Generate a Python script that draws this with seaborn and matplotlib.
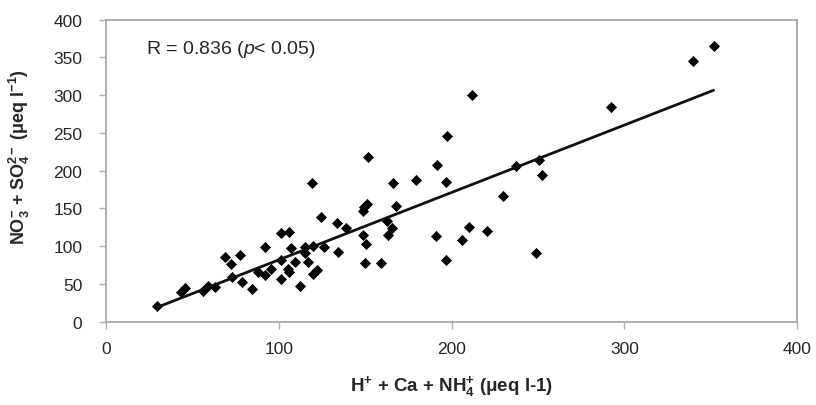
import numpy as np
import pandas as pd
import matplotlib
matplotlib.use("Agg")
import matplotlib.pyplot as plt
import seaborn as sns

# cations (x) vs anions (y), in ueq/l
cations = [29.3, 43.1, 45.7, 56.0, 59.2, 62.8, 68.9, 72.2, 72.6, 77.4,
           78.9, 84.3, 88.2, 92.0, 92.0, 95.5, 101.1, 106.1, 101.5, 101.1,
           105.0, 106.1, 106.8, 109.2, 112.3, 115.2, 115.2, 117.1, 119.7, 119.5,
           122.0, 119.1, 124.5, 126.2, 133.9, 134.5, 138.9, 148.5, 149.5, 150.9,
           148.5, 150.6, 149.9, 159.2, 162.3, 163.2, 165.6, 167.9, 166.3, 179.5,
           196.5, 191.2, 196.7, 151.8, 191.8, 197.2, 205.9, 210.3, 220.4, 211.7,
           229.6, 237.3, 250.8, 252.2, 248.9, 292.3, 339.6, 351.6]
anions = [21.2, 39.7, 44.2, 40.4, 47.9, 45.6, 85.3, 77.1, 58.8, 88.6,
          53.0, 44.0, 65.8, 61.9, 99.3, 70.5, 117.2, 118.4, 82.0, 56.6,
          69.8, 65.4, 97.4, 79.7, 47.9, 99.3, 90.7, 79.7, 100.7, 63.6,
          68.1, 183.7, 138.3, 98.9, 130.7, 92.3, 124.5, 146.6, 151.5, 156.6,
          115.1, 102.9, 77.5, 77.7, 133.8, 114.8, 123.7, 152.8, 183.7, 187.3,
          185.4, 113.1, 81.7, 217.7, 207.5, 246.4, 108.2, 125.8, 120.5, 300.7,
          166.9, 205.8, 214.2, 194.7, 90.6, 284.8, 345.3, 364.8]
x_ticks = [0, 100, 200, 300, 400]
y_ticks = [0, 50, 100, 150, 200, 250, 300, 350, 400]

df = pd.DataFrame({"cations": cations, "anions": anions})

sns.set_style("white")
plt.rcParams["font.family"] = ["Liberation Sans", "DejaVu Sans"]
plt.rcParams["mathtext.fontset"] = "custom"
plt.rcParams["mathtext.rm"] = "Liberation Sans"
plt.rcParams["mathtext.it"] = "Liberation Sans:italic"
plt.rcParams["mathtext.bf"] = "Liberation Sans:bold"

fig = plt.figure(figsize=(8.16, 4.06), dpi=100)
ax = fig.add_axes([0.13, 0.205, 0.847, 0.744])

# scatter + least squares line
sns.regplot(data=df, x="cations", y="anions", ax=ax, ci=None, marker="D",
            color="black",
            scatter_kws={"s": 32, "linewidths": 0, "alpha": 1},
            line_kws={"linewidth": 2, "color": "#111111"})

ax.set_xlim(0, 400)
ax.set_ylim(0, 400)
ax.set_xticks(x_ticks)
ax.set_yticks(y_ticks)
ax.tick_params(axis="both", labelsize=12.5, length=5, width=1, color="#b0b0b0",
               direction="out", bottom=True, left=True)
ax.tick_params(axis="y", pad=12)
ax.tick_params(axis="x", pad=9)
for s in ax.spines.values():
    s.set_color("#a8a8a8")
    s.set_linewidth(1.3)

ax.set_xlabel(r"H$^{\mathbf{+}}$ + Ca + NH$_{\mathbf{4}}^{\mathbf{+}}$ (μeq l-1)",
              fontsize=13.5, fontweight="bold", va="top")
ax.xaxis.set_label_coords(0.5, -0.17)
ax.set_ylabel(r"NO$_{\mathbf{3}}^{\mathbf{-}}$ + SO$_{\mathbf{4}}^{\mathbf{2-}}$ (μeq l$^{\mathbf{-1}}$)",
              fontsize=13, fontweight="bold")
ax.yaxis.set_label_coords(-0.107, 0.55)

ax.text(0.058, 0.905, r"R = 0.836 ($\mathit{p}$< 0.05)", transform=ax.transAxes,
        fontsize=14, va="center")

fig.savefig("out.png", dpi=100)
